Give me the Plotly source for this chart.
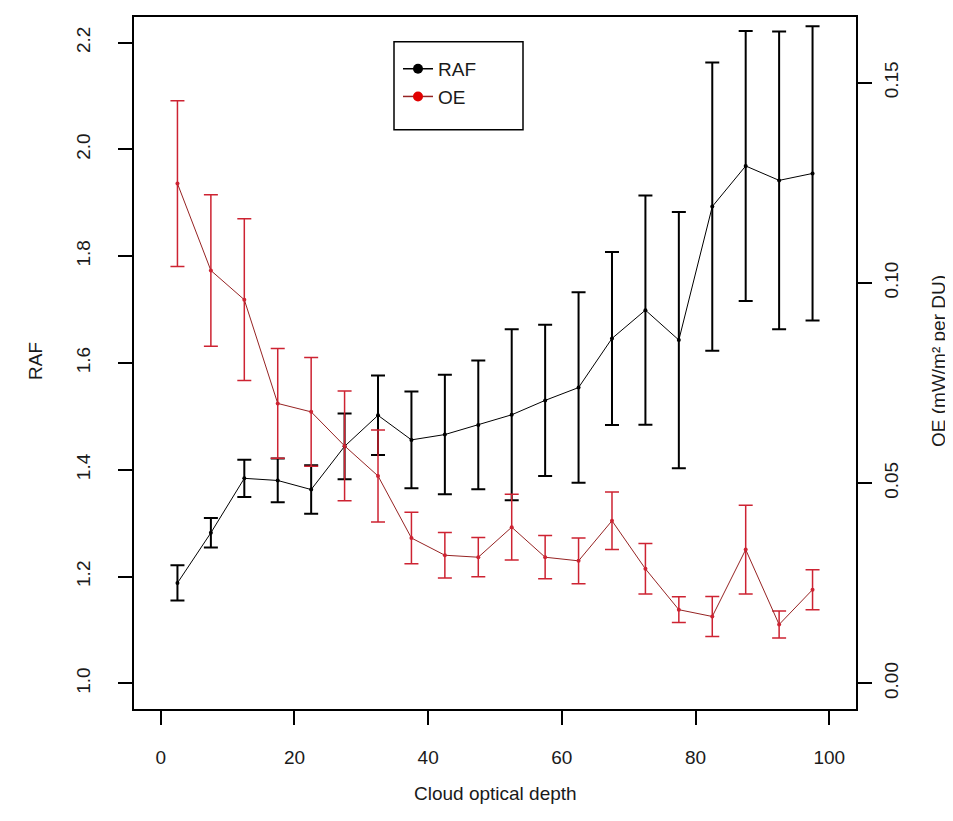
import plotly.graph_objects as go

# ---------------- data ----------------
cod = [2.5, 7.5, 12.5, 17.5, 22.5, 27.5, 32.5, 37.5, 42.5, 47.5,
       52.5, 57.5, 62.5, 67.5, 72.5, 77.5, 82.5, 87.5, 92.5, 97.5]

raf = [1.188, 1.282, 1.384, 1.380, 1.363, 1.444, 1.502, 1.456, 1.466, 1.484,
       1.503, 1.530, 1.554, 1.646, 1.699, 1.643, 1.893, 1.969, 1.942, 1.955]
raf_err = [0.033, 0.0275, 0.035, 0.041, 0.0455, 0.0615, 0.0745, 0.0905, 0.112, 0.1205,
           0.160, 0.1415, 0.1785, 0.162, 0.2145, 0.240, 0.270, 0.253, 0.279, 0.2755]

oe = [0.1248, 0.1031, 0.0958, 0.0699, 0.0678, 0.0593, 0.0518, 0.0363, 0.0320, 0.0315,
      0.0390, 0.0315, 0.0306, 0.0406, 0.0286, 0.0184, 0.0167, 0.0334, 0.0147, 0.0234]
oe_err = [0.0207, 0.0189, 0.0202, 0.0137, 0.0136, 0.0137, 0.0115, 0.0064, 0.0057, 0.0049,
          0.0082, 0.0054, 0.0057, 0.0072, 0.0063, 0.0032, 0.0050, 0.0111, 0.0034, 0.0050]

x_ticks = [0, 20, 40, 60, 80, 100]
raf_ticks = [1.0, 1.2, 1.4, 1.6, 1.8, 2.0, 2.2]
oe_ticks = [0.00, 0.05, 0.10, 0.15]

# ---------------- layout helpers ----------------
W, H = 953, 821
L, R, T, B = 126, 848, 7, 701
PW, PH = R - L, B - T


def px(x):
    return (x - L) / PW


def py(y):
    return 1 - (y - T) / PH


FONT = "Liberation Sans, Arial, sans-serif"
FS = 19
TXT = "#1a1a1a"
RED_BAR = "rgb(205,35,50)"
RED_LINE = "rgb(150,35,35)"

fig = go.Figure()

fig.add_trace(go.Scatter(
    x=cod, y=oe, yaxis="y2", mode="lines+markers", showlegend=False,
    line=dict(color=RED_LINE, width=1),
    marker=dict(color=RED_BAR, size=4),
    error_y=dict(type="data", array=oe_err, visible=True,
                 color=RED_BAR, thickness=1.5, width=7),
))

fig.add_trace(go.Scatter(
    x=cod, y=raf, mode="lines+markers", showlegend=False,
    line=dict(color="black", width=1),
    marker=dict(color="black", size=4),
    error_y=dict(type="data", array=raf_err, visible=True,
                 color="black", thickness=2, width=7),
))

# legend-only entries
fig.add_trace(go.Scatter(
    x=[None], y=[None], mode="lines+markers", name="RAF",
    line=dict(color="black", width=1.5), marker=dict(color="black", size=10)))
fig.add_trace(go.Scatter(
    x=[None], y=[None], mode="lines+markers", name="OE",
    line=dict(color=RED_LINE, width=1.5), marker=dict(color="rgb(225,0,0)", size=10)))

axis_common = dict(
    showgrid=False, zeroline=False, showline=True, linecolor="black", linewidth=1.5,
    ticks="outside", ticklen=14, tickwidth=1.5, tickcolor="black",
    tickfont=dict(family=FONT, size=FS, color=TXT),
)

fig.update_layout(
    width=W, height=H,
    margin=dict(l=L, r=W - R, t=T, b=H - B),
    paper_bgcolor="white", plot_bgcolor="white",
    font=dict(family=FONT, size=FS, color=TXT),
    xaxis=dict(range=[-4, 104], tickvals=x_ticks, ticktext=[str(v) for v in x_ticks],
               mirror=True, ticklabelstandoff=16, **axis_common),
    yaxis=dict(range=[0.952, 2.248], tickvals=raf_ticks,
               ticktext=[f"{v:.1f}" for v in raf_ticks], tickangle=-90,
               ticklabelstandoff=21, **axis_common),
    yaxis2=dict(range=[-0.0064, 0.1664], tickvals=oe_ticks,
                ticktext=[f"{v:.2f}" for v in oe_ticks], tickangle=-90,
                overlaying="y", side="right", ticklabelstandoff=3, **axis_common),
    legend=dict(x=px(390), y=py(40), xanchor="left", yanchor="top",
                bgcolor="rgba(0,0,0,0)", borderwidth=0,
                font=dict(family=FONT, size=FS, color=TXT), tracegroupgap=0),
    shapes=[dict(type="rect", xref="paper", yref="paper",
                 x0=px(386), x1=px(515), y0=py(120), y1=py(31.7),
                 line=dict(color="black", width=1.5))],
    annotations=[
        dict(text="Cloud optical depth", xref="paper", yref="paper",
             x=px(487), y=py(786), xanchor="center", yanchor="middle",
             showarrow=False, font=dict(family=FONT, size=FS, color=TXT)),
        dict(text="RAF", xref="paper", yref="paper", textangle=-90,
             x=px(27), y=py(352), xanchor="center", yanchor="middle",
             showarrow=False, font=dict(family=FONT, size=FS, color=TXT)),
        dict(text="OE (mW/m² per DU)", xref="paper", yref="paper", textangle=-90,
             x=px(930), y=py(352), xanchor="center", yanchor="middle",
             showarrow=False, font=dict(family=FONT, size=FS, color=TXT)),
    ],
)

fig.write_html("out.html")
